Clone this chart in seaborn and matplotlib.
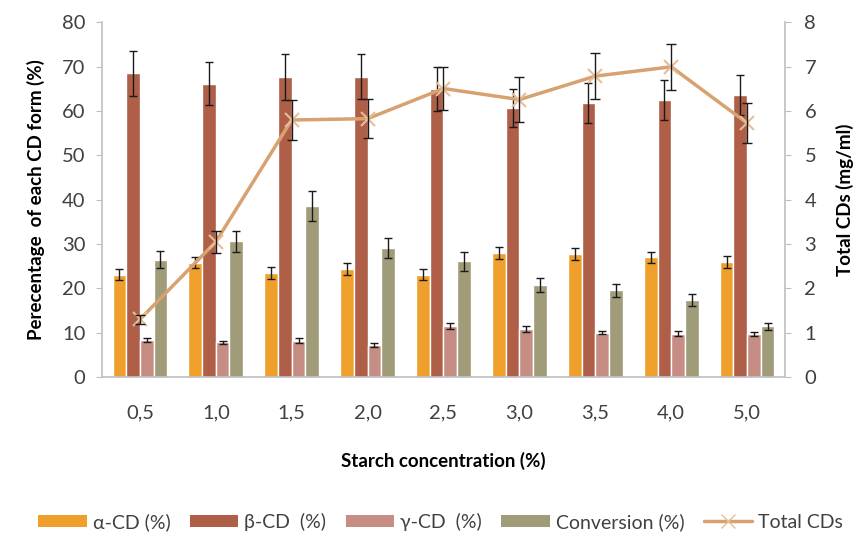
import numpy as np
import pandas as pd
import matplotlib.pyplot as plt
import seaborn as sns
from matplotlib.patches import Patch
from matplotlib.lines import Line2D

# Data
concentrations = ["0,5", "1,0", "1,5", "2,0", "2,5", "3,0", "3,5", "4,0", "5,0"]
forms = ["α-CD (%)", "β-CD  (%)", "γ-CD  (%)", "Conversion (%)"]

alpha_cd = [23.1, 25.8, 23.5, 24.4, 23.1, 28.0, 27.8, 27.0, 26.0]
alpha_err = [1.2, 1.2, 1.3, 1.3, 1.3, 1.3, 1.3, 1.3, 1.4]
beta_cd = [68.5, 66.2, 67.8, 67.8, 65.0, 60.8, 61.9, 62.5, 63.6]
beta_err = [5.0, 4.8, 5.2, 5.0, 5.0, 4.3, 4.5, 4.5, 4.5]
gamma_cd = [8.4, 7.8, 8.2, 7.2, 11.5, 10.8, 10.0, 9.8, 9.7]
gamma_err = [0.5, 0.4, 0.6, 0.4, 0.6, 0.6, 0.4, 0.6, 0.5]
conversion = [26.5, 30.6, 38.5, 29.1, 26.1, 20.8, 19.6, 17.4, 11.5]
conversion_err = [2.0, 2.4, 3.4, 2.2, 2.2, 1.6, 1.5, 1.3, 0.8]

total_cds = [1.30, 3.05, 5.80, 5.83, 6.51, 6.26, 6.79, 7.00, 5.73]
total_err = [0.10, 0.25, 0.45, 0.44, 0.49, 0.50, 0.52, 0.52, 0.45]

colors = ["#EFA02C", "#AF5E48", "#C58D84", "#A09B79"]
line_color = "#D7A270"
text_color = "#404040"
spine_color = "#BFBFBF"

df = pd.DataFrame({
    "conc": concentrations * 4,
    "form": np.repeat(forms, len(concentrations)),
    "value": alpha_cd + beta_cd + gamma_cd + conversion,
})
errors = [alpha_err, beta_err, gamma_err, conversion_err]

sns.set_style("white")
plt.rcParams["font.family"] = ["Lato", "DejaVu Sans"]

fig = plt.figure(figsize=(8.64, 5.42), dpi=100)
ax = fig.add_axes([0.118, 0.3044, 0.7906, 0.6541])

sns.barplot(data=df, x="conc", y="value", hue="form", hue_order=forms,
            palette=colors, width=0.72, errorbar=None, legend=False,
            saturation=1, ax=ax)

# error bars on the bars
for cont, err in zip(ax.containers, errors):
    xs = [p.get_x() + p.get_width() / 2 for p in cont]
    ys = [p.get_height() for p in cont]
    ax.errorbar(xs, ys, yerr=err, fmt="none", ecolor="#1a1a1a",
                elinewidth=1, capsize=3, capthick=1, zorder=5)

ax.set_xlim(-0.5, 8.5)
ax.set_ylim(0, 80)
ax.set_yticks(range(0, 81, 10))
ax.set_xlabel("Starch concentration (%)", fontsize=13.5, fontweight="bold",
              color="black", labelpad=22)
ax.set_ylabel("Perecentage  of each CD form (%)", fontsize=13.5,
              fontweight="bold", color="black", labelpad=12)
ax.tick_params(axis="y", length=4, color=spine_color, labelsize=14.5,
               labelcolor=text_color, pad=8)
ax.tick_params(axis="x", length=0, labelsize=14.5, labelcolor=text_color, pad=20)
for s in ["top", "right"]:
    ax.spines[s].set_visible(False)
for s in ["left", "bottom"]:
    ax.spines[s].set_color(spine_color)
    ax.spines[s].set_linewidth(1.2)

# Total CDs on secondary axis
ax2 = ax.twinx()
xpos = np.arange(len(concentrations))
sns.lineplot(x=xpos, y=total_cds, ax=ax2, color=line_color, linewidth=2.5,
             marker="x", markersize=10, markeredgecolor="#E6BE98",
             markeredgewidth=1.5, zorder=3)
ax2.errorbar(xpos, total_cds, yerr=total_err, fmt="none", ecolor="#1a1a1a",
             elinewidth=1, capsize=3.5, capthick=1, zorder=6)
ax2.set_ylim(0, 8)
ax2.set_yticks(range(0, 9))
ax2.set_ylabel("Total CDs (mg/ml)", fontsize=13.5, fontweight="bold",
               color="black", labelpad=14)
ax2.tick_params(axis="y", length=4, color=spine_color, labelsize=14.5,
                labelcolor=text_color, pad=10)
for s in ["top", "left", "bottom"]:
    ax2.spines[s].set_visible(False)
ax2.spines["right"].set_color(spine_color)
ax2.spines["right"].set_linewidth(1.2)

handles = [Patch(facecolor=c, edgecolor="none") for c in colors]
handles.append(Line2D([], [], color=line_color, linewidth=2.5, marker="x",
                      markersize=10, markeredgecolor="#E6BE98"))
fig.legend(handles, forms + ["Total CDs"], loc="center",
           bbox_to_anchor=(0.51, 0.037), ncol=5, frameon=False,
           fontsize=14, labelcolor=text_color, handlelength=2.5,
           handleheight=0.6, handletextpad=0.3, columnspacing=1.0)

fig.savefig("out.png", dpi=100)
